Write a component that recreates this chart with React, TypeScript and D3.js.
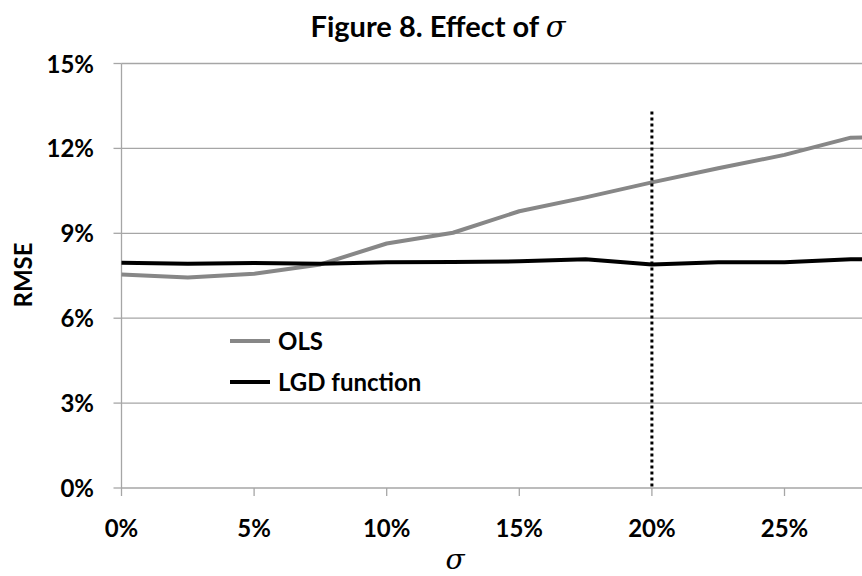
import { useEffect, useRef } from 'react';
import * as d3 from 'd3';

// sigma values (fraction)
const sigmas = [0, 0.025, 0.05, 0.075, 0.1, 0.125, 0.15, 0.175, 0.2, 0.225, 0.25, 0.275, 0.3];
const olsRmse = [0.0754, 0.0744, 0.0757, 0.079, 0.0864, 0.0902, 0.0978, 0.1027, 0.108, 0.113, 0.1177, 0.1238, 0.1240];
const lgdRmse = [0.0796, 0.0792, 0.0795, 0.0792, 0.0798, 0.0799, 0.0801, 0.0808, 0.079, 0.0798, 0.0798, 0.0808, 0.0810];
const xTicks = [0, 0.05, 0.1, 0.15, 0.2, 0.25];
const yTicks = [0, 0.03, 0.06, 0.09, 0.12, 0.15];
const markerSigma = 0.2;
const markerTop = 0.133;

const series = [
  { name: 'OLS', values: olsRmse, color: '#878787' },
  { name: 'LGD function', values: lgdRmse, color: '#000000' },
];

const W = 862;
const H = 576;
const FONT = 'Lato, "Open Sans", sans-serif';

export default function App() {
  const ref = useRef<SVGSVGElement>(null);

  useEffect(() => {
    const svg = d3.select(ref.current);
    svg.selectAll('*').remove();

    const x = d3.scaleLinear().domain([0, 0.05]).range([121.5, 254.1]);
    const y = d3.scaleLinear().domain([0, 0.15]).range([488, 63.5]);
    const pct = (d: number) => `${Math.round(d * 100)}%`;

    svg.append('clipPath').attr('id', 'plot')
      .append('rect').attr('x', 0).attr('y', 0).attr('width', W).attr('height', H);

    // gridlines
    svg.append('g').selectAll('line').data(yTicks.slice(1)).join('line')
      .attr('x1', x(0)).attr('x2', W).attr('y1', d => y(d)).attr('y2', d => y(d))
      .attr('stroke', '#a6a6a6').attr('stroke-width', 1.3);

    // y axis
    svg.append('line').attr('x1', x(0)).attr('x2', x(0)).attr('y1', y(0.15)).attr('y2', y(0))
      .attr('stroke', '#a6a6a6').attr('stroke-width', 1.3);
    svg.append('g').selectAll('line').data(yTicks).join('line')
      .attr('x1', x(0) - 8).attr('x2', x(0)).attr('y1', d => y(d)).attr('y2', d => y(d))
      .attr('stroke', '#a6a6a6').attr('stroke-width', 1.3);
    svg.append('g').selectAll('text').data(yTicks).join('text')
      .attr('x', 94).attr('y', d => y(d) + 9)
      .attr('text-anchor', 'end').attr('font-family', FONT).attr('font-weight', 'bold')
      .attr('font-size', 24).text(pct);

    // x axis
    svg.append('line').attr('x1', x(0)).attr('x2', W).attr('y1', y(0)).attr('y2', y(0))
      .attr('stroke', '#a6a6a6').attr('stroke-width', 1.3);
    svg.append('g').selectAll('line').data(xTicks).join('line')
      .attr('x1', d => x(d)).attr('x2', d => x(d)).attr('y1', y(0)).attr('y2', y(0) + 8)
      .attr('stroke', '#a6a6a6').attr('stroke-width', 1.3);
    svg.append('g').selectAll('text').data(xTicks).join('text')
      .attr('x', d => x(d)).attr('y', 537)
      .attr('text-anchor', 'middle').attr('font-family', FONT).attr('font-weight', 'bold')
      .attr('font-size', 24).text(pct);

    // series
    const line = d3.line<number>().x((_, i) => x(sigmas[i])).y(d => y(d));
    series.forEach(s => {
      svg.append('path').datum(s.values)
        .attr('d', line).attr('fill', 'none')
        .attr('stroke', s.color).attr('stroke-width', 4)
        .attr('stroke-linejoin', 'round')
        .attr('clip-path', 'url(#plot)');
    });

    // dotted marker
    svg.append('line')
      .attr('x1', x(markerSigma)).attr('x2', x(markerSigma))
      .attr('y1', y(markerTop)).attr('y2', y(0))
      .attr('stroke', '#000').attr('stroke-width', 3).attr('stroke-dasharray', '3,3');

    // legend
    series.forEach((s, i) => {
      const ly = 341 + i * 41;
      svg.append('line').attr('x1', 230).attr('x2', 270).attr('y1', ly).attr('y2', ly)
        .attr('stroke', s.color).attr('stroke-width', 4);
      svg.append('text').attr('x', 278).attr('y', ly + 8.5)
        .attr('font-family', FONT).attr('font-weight', 'bold').attr('font-size', 24)
        .text(s.name);
    });

    // titles
    const title = svg.append('text').attr('x', 438).attr('y', 37).attr('text-anchor', 'middle')
      .attr('font-family', FONT).attr('font-weight', 'bold').attr('font-size', 29);
    title.append('tspan').text('Figure 8. Effect of ');
    title.append('tspan').attr('font-family', '"DejaVu Serif", serif').attr('font-style', 'italic')
      .attr('font-weight', 'normal').text('σ');

    svg.append('text').attr('x', 455).attr('y', 569).attr('text-anchor', 'middle')
      .attr('font-family', '"DejaVu Serif", serif').attr('font-style', 'italic')
      .attr('font-size', 28).text('σ');

    svg.append('text')
      .attr('transform', 'translate(32,275) rotate(-90)')
      .attr('text-anchor', 'middle').attr('font-family', FONT).attr('font-weight', 'bold')
      .attr('font-size', 24).text('RMSE');
  }, []);

  return (
    <svg ref={ref} width={W} height={H}
      style={{ position: 'absolute', left: 0, top: 0, background: '#fff' }} />
  );
}
